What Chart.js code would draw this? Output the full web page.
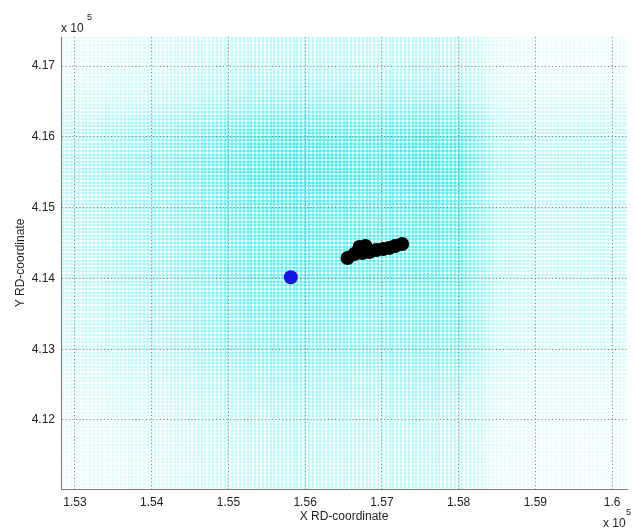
<!DOCTYPE html>
<html>
<head>
<meta charset="utf-8">
<script src="https://cdn.jsdelivr.net/npm/chart.js@4/dist/chart.umd.min.js"></script>
<style>
  html, body { margin: 0; padding: 0; background: #fff; }
  #wrap { width: 634px; height: 529px; }
</style>
</head>
<body>
<div id="wrap"><canvas id="rdChart"></canvas></div>
<script>
// measured positions (RD coordinates, metres)
const blueX = [155813];
const blueY = [414016];
const blackX = [156553, 156643, 156708, 156786, 156747, 156837, 156928, 157018, 157096, 157173, 157264];
const blackY = [414288, 414345, 414444, 414458, 414359, 414373, 414401, 414415, 414429, 414458, 414486];

// tick positions
const xTicks = [153000, 154000, 155000, 156000, 157000, 158000, 159000, 160000];
const yTicks = [412000, 413000, 414000, 415000, 416000, 417000];

// background cyan density, sampled every 500 m
const shadeXAt = [152500, 153000, 153500, 154000, 154500, 155000, 155500, 156000, 156500, 157000, 157500, 158000, 158500, 159000, 159500, 160000, 160500];
const shadeX   = [0.12, 0.14, 0.2, 0.26, 0.34, 0.44, 0.54, 0.55, 0.52, 0.5, 0.55, 0.52, 0.16, 0.12, 0.12, 0.12, 0.12];
const shadeYAt = [411000, 411500, 412000, 412500, 413000, 413500, 414000, 414500, 415000, 415500, 416000, 416500, 417000, 417500];
const shadeY   = [0.1, 0.12, 0.14, 0.2, 0.32, 0.38, 0.44, 0.48, 0.5, 0.58, 0.54, 0.26, 0.14, 0.12];

const X_MIN = 152819, X_MAX = 160194;
const Y_MIN = 411025, Y_MAX = 417410;

function shadeAt(at, vals, v) {
  if (v <= at[0]) return vals[0];
  for (let i = 1; i < at.length; i++) {
    if (v <= at[i]) {
      const t = (v - at[i - 1]) / (at[i] - at[i - 1]);
      return vals[i - 1] + t * (vals[i] - vals[i - 1]);
    }
  }
  return vals[vals.length - 1];
}

function fmt(v) {
  return String(parseFloat((v / 1e5).toFixed(4)));
}

const FONT = { family: "'Liberation Sans', Arial, sans-serif", size: 12 };
const CYAN = '0,230,235';

// fine line colour fades along the other direction too
function fineColor(ctx, vertical) {
  const chart = ctx.chart;
  const area = chart.chartArea;
  if (!area || !ctx.tick) return 'rgba(0,0,0,0)';
  const own = vertical ? shadeAt(shadeXAt, shadeX, ctx.tick.value) : shadeAt(shadeYAt, shadeY, ctx.tick.value);
  const otherAt = vertical ? shadeYAt : shadeXAt;
  const otherVals = vertical ? shadeY : shadeX;
  const otherScale = vertical ? chart.scales.y : chart.scales.x;
  const maxOther = Math.max(...otherVals);
  const g = vertical
    ? chart.ctx.createLinearGradient(0, area.top, 0, area.bottom)
    : chart.ctx.createLinearGradient(area.left, 0, area.right, 0);
  const span = vertical ? area.bottom - area.top : area.right - area.left;
  const start = vertical ? area.top : area.left;
  otherAt.forEach((v, i) => {
    const p = otherScale.getPixelForValue(v);
    const off = (p - start) / span;
    if (off < -0.2 || off > 1.2) return;
    const a = 0.85 * own * (0.25 + 0.75 * otherVals[i] / maxOther);
    g.addColorStop(Math.min(1, Math.max(0, off)), 'rgba(' + CYAN + ',' + a.toFixed(3) + ')');
  });
  return g;
}

const fineAxis = (vertical, min, max) => ({
  type: 'linear', position: vertical ? 'bottom' : 'left', min: min, max: max, z: -1,
  ticks: { display: false, stepSize: 50, maxTicksLimit: 1000, includeBounds: false },
  border: { display: false },
  grid: { drawTicks: false, lineWidth: 2, color: (ctx) => fineColor(ctx, vertical) },
  afterFit: (s) => { if (vertical) s.height = 0; else s.width = 0; }
});

const expLabel = {
  id: 'expLabel',
  afterDraw(chart) {
    const ctx = chart.ctx;
    ctx.save();
    ctx.fillStyle = '#222';
    ctx.textBaseline = 'alphabetic';
    ctx.textAlign = 'left';
    ctx.font = "12px 'Liberation Sans', Arial, sans-serif";
    ctx.fillText('x 10', 61, 32);
    ctx.fillText('x 10', 603, 527);
    ctx.font = "9px 'Liberation Sans', Arial, sans-serif";
    ctx.fillText('5', 87, 20);
    ctx.fillText('5', 626, 515);
    ctx.restore();
  }
};

new Chart(document.getElementById('rdChart'), {
  type: 'scatter',
  data: {
    datasets: [
      {
        label: 'reference',
        data: blueX.map((x, i) => ({ x: x, y: blueY[i] })),
        backgroundColor: '#1414e6',
        borderWidth: 0,
        pointRadius: 7,
        pointHoverRadius: 7
      },
      {
        label: 'positions',
        data: blackX.map((x, i) => ({ x: x, y: blackY[i] })),
        backgroundColor: '#000',
        borderWidth: 0,
        pointRadius: 7,
        pointHoverRadius: 7
      }
    ]
  },
  options: {
    responsive: true,
    maintainAspectRatio: false,
    animation: false,
    layout: { padding: { top: 37, right: 2, left: 0, bottom: 0 } },
    plugins: { legend: { display: false }, tooltip: { enabled: false } },
    scales: {
      xf: fineAxis(true, X_MIN, X_MAX),
      yf: fineAxis(false, Y_MIN, Y_MAX),
      x: {
        type: 'linear', position: 'bottom', min: X_MIN, max: X_MAX,
        afterBuildTicks: (s) => { s.ticks = xTicks.map((v) => ({ value: v })); },
        ticks: { padding: 6, color: '#222', font: FONT, callback: fmt, maxRotation: 0, autoSkip: false },
        grid: { drawTicks: false, color: '#808080', lineWidth: 1 },
        border: { display: true, color: '#7a7a7a', width: 1, dash: [1, 2.5] },
        title: { display: true, text: 'X RD-coordinate', color: '#222', font: FONT, padding: { top: 0, bottom: 5 } },
        afterFit: (s) => { s.height = 40; }
      },
      y: {
        type: 'linear', position: 'left', min: Y_MIN, max: Y_MAX,
        afterBuildTicks: (s) => { s.ticks = yTicks.map((v) => ({ value: v })); },
        ticks: { padding: 6, color: '#222', font: FONT, callback: fmt, autoSkip: false },
        grid: { drawTicks: false, color: '#808080', lineWidth: 1 },
        border: { display: true, color: '#7a7a7a', width: 1, dash: [1, 2.5] },
        title: { display: true, text: 'Y RD-coordinate', color: '#222', font: FONT, padding: { top: 13, bottom: 0 } },
        afterFit: (s) => { s.width = 61; }
      }
    }
  },
  plugins: [expLabel]
});
</script>
</body>
</html>
